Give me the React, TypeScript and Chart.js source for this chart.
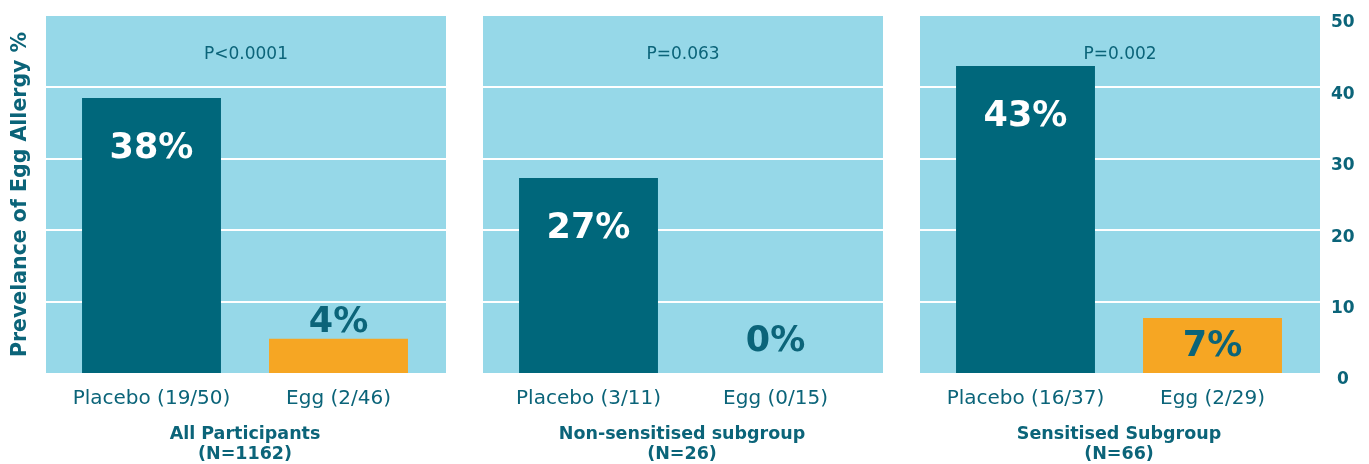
import React, { useEffect, useRef } from "react";
import { Chart, registerables } from "chart.js";

Chart.register(...registerables);

// ---- data ----
const groupNames = ["All Participants", "Non-sensitised subgroup", "Sensitised Subgroup"];
const groupN = ["(N=1162)", "(N=26)", "(N=66)"];
const placeboLabels = ["Placebo (19/50)", "Placebo (3/11)", "Placebo (16/37)"];
const eggLabels = ["Egg (2/46)", "Egg (0/15)", "Egg (2/29)"];
const placeboValues = [38.5, 27.3, 43.0];
const eggValues = [4.8, 0, 7.7];
const placeboText = ["38%", "27%", "43%"];
const eggText = ["4%", "0%", "7%"];
const pValues = ["P<0.0001", "P=0.063", "P=0.002"];
const yMin = 0;
const yMax = 50;
const yStep = 10;
const yTitle = "Prevelance of Egg Allergy %";

// ---- style ----
const FONT = "'DejaVu Sans', sans-serif";
const TEAL = "#00677b";
const TEXT = "#0b6479";
const ORANGE = "#f6a623";
const LIGHT = "#96d8e8";
const W = 1369;
const H = 464;
const canvases = [
  { left: 0, width: 460 },
  { left: 460, width: 437 },
  { left: 897, width: 472 },
];
const PANEL_EXT_L = 12;
const PANEL_EXT_R = 14;

const panelPlugin = {
  id: "panelBg",
  beforeDatasetsDraw(chart: any) {
    const { ctx, chartArea: a, scales } = chart;
    const y = scales.y;
    const l = a.left - PANEL_EXT_L;
    const r = a.right + PANEL_EXT_R;
    ctx.save();
    ctx.fillStyle = LIGHT;
    ctx.fillRect(l, a.top, r - l, a.bottom - a.top);
    ctx.strokeStyle = "#ffffff";
    ctx.lineWidth = 2;
    for (const t of y.ticks) {
      if (t.value <= y.min || t.value >= y.max) continue;
      const py = Math.round(y.getPixelForValue(t.value));
      ctx.beginPath();
      ctx.moveTo(l, py);
      ctx.lineTo(r, py);
      ctx.stroke();
    }
    ctx.restore();
  },
};

const labelPlugin = {
  id: "barLabels",
  afterDatasetsDraw(chart: any) {
    const { ctx, chartArea: a } = chart;
    const o = chart.options.plugins.barLabels;
    const meta = chart.getDatasetMeta(0);
    ctx.save();
    ctx.textAlign = "center";
    ctx.textBaseline = "middle";
    // p-value
    ctx.font = `400 17px ${FONT}`;
    ctx.fillStyle = TEXT;
    const cx = (a.left - PANEL_EXT_L + a.right + PANEL_EXT_R) / 2;
    ctx.fillText(o.p, cx, a.top + 39);
    // bar values
    ctx.font = `700 35px ${FONT}`;
    meta.data.forEach((el: any, i: number) => {
      const top = el.y;
      const bottom = el.base;
      let ty;
      if (i === 0) {
        ctx.fillStyle = "#ffffff";
        ty = top + 51;
      } else {
        ctx.fillStyle = TEXT;
        if (bottom - top >= 45) ty = top + 29;
        else ty = Math.min(top - 16, bottom - 31);
      }
      ctx.fillText(o.texts[i], el.x, ty);
    });
    ctx.restore();
  },
};

function makeConfig(i: number): any {
  const isFirst = i === 0;
  const isLast = i === 2;
  return {
    type: "bar",
    data: {
      labels: [placeboLabels[i], eggLabels[i]],
      datasets: [
        {
          data: [placeboValues[i], eggValues[i]],
          backgroundColor: [TEAL, ORANGE],
          borderWidth: 0,
          categoryPercentage: 1,
          barPercentage: 0.743,
        },
      ],
    },
    options: {
      responsive: false,
      animation: false,
      layout: {
        padding: { top: 16, bottom: 0, left: isFirst ? 0 : 35, right: isLast ? 0 : 28 },
      },
      plugins: {
        legend: { display: false },
        tooltip: { enabled: false },
        barLabels: { p: pValues[i], texts: [placeboText[i], eggText[i]] },
      },
      scales: {
        x: {
          grid: { display: false, drawTicks: false },
          border: { display: false },
          ticks: {
            color: TEXT,
            font: { family: FONT, size: 20, weight: 400 },
            padding: 14,
            maxRotation: 0,
            autoSkip: false,
          },
          title: {
            display: true,
            text: [groupNames[i], groupN[i]],
            color: TEXT,
            font: { family: FONT, size: 17.5, weight: 700, lineHeight: 20 / 17.5 },
            padding: { top: 0, bottom: 0 },
          },
          afterFit(s: any) {
            s.height = 91;
            s.paddingLeft = 0;
            s.paddingRight = 0;
          },
        },
        y: {
          display: isFirst || isLast,
          position: isLast ? "right" : "left",
          min: yMin,
          max: yMax,
          grid: { display: false, drawTicks: false },
          border: { display: false },
          ticks: {
            display: isLast,
            stepSize: yStep,
            color: TEXT,
            font: { family: FONT, size: 17, weight: 700 },
            padding: 25,
            crossAlign: "center",
            labelOffset: 7,
          },
          title: {
            display: isFirst,
            text: yTitle,
            color: TEXT,
            font: { family: FONT, size: 20.5, weight: 700, lineHeight: 1.2 },
            padding: { top: 8, bottom: 0 },
          },
          afterFit(s: any) {
            if (isFirst) s.width = 58;
            if (isLast) s.width = 63;
            s.paddingTop = 0;
            s.paddingBottom = 0;
          },
        },
      },
    },
    plugins: [panelPlugin, labelPlugin],
  };
}

function Panel({ i }: { i: number }) {
  const ref = useRef<HTMLCanvasElement | null>(null);
  useEffect(() => {
    if (!ref.current) return;
    const chart = new Chart(ref.current, makeConfig(i));
    return () => chart.destroy();
  }, [i]);
  const c = canvases[i];
  return (
    <canvas
      ref={ref}
      width={c.width}
      height={H}
      style={{ position: "absolute", left: c.left, top: 0, width: c.width, height: H }}
    />
  );
}

export default function App() {
  return (
    <div style={{ position: "absolute", left: 0, top: 0, width: W, height: H, background: "#ffffff" }}>
      {[0, 1, 2].map((i) => (
        <Panel key={i} i={i} />
      ))}
    </div>
  );
}
